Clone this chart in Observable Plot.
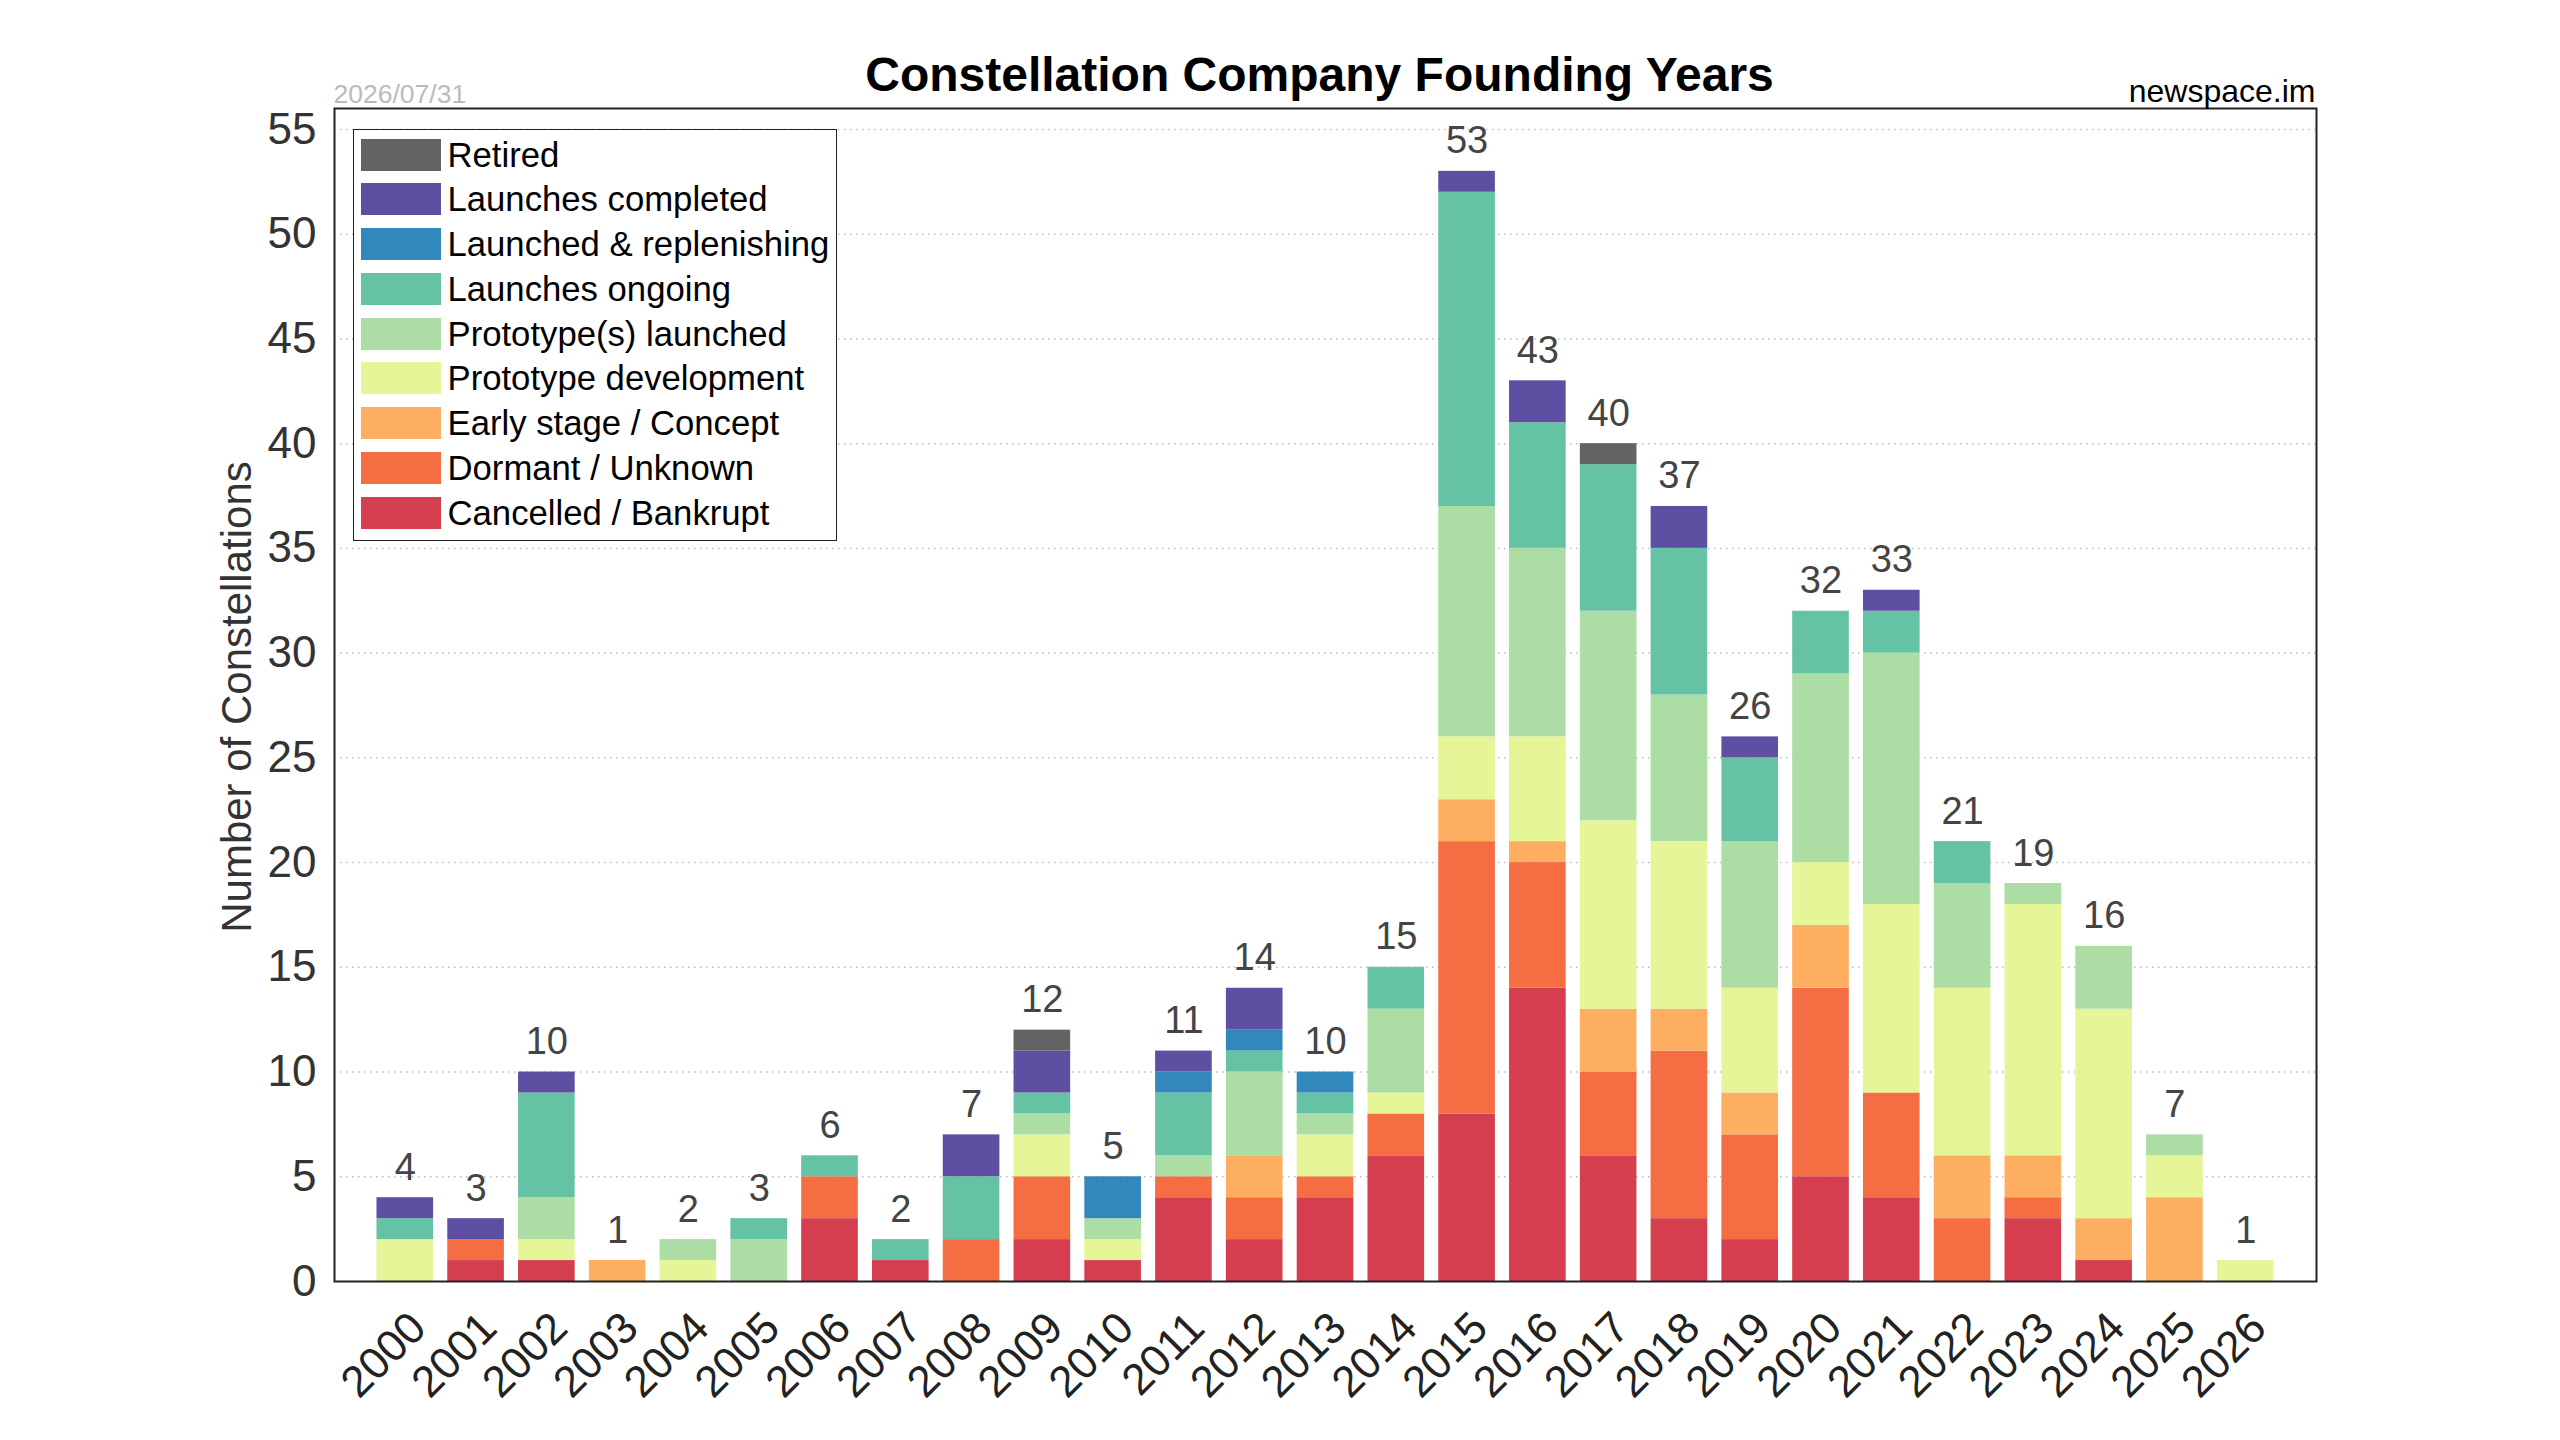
<!DOCTYPE html>
<html>
<head>
<meta charset="utf-8">
<script src="https://cdn.jsdelivr.net/npm/d3@7"></script>
<script src="https://cdn.jsdelivr.net/npm/@observablehq/plot@0.6"></script>
<style>
html, body { margin: 0; padding: 0; background: #fff; }
#wrap { position: relative; width: 2560px; height: 1440px; font-family: 'Liberation Sans', Arial, Helvetica, sans-serif; }
#legend { position: absolute; left: 353px; top: 129px; width: 484px; height: 412px; border: 1.5px solid #222; background: #fff; box-sizing: border-box; }
.lrow { position: absolute; left: 6.5px; height: 32px; display: flex; align-items: center; }
.sw { width: 80px; height: 32px; box-sizing: border-box; }
.lt { margin-left: 7px; font-size: 34.7px; color: #000; line-height: 32px; white-space: nowrap; }
</style>
</head>
<body>
<div id="wrap"></div>
<script>
// ---- data ----
const years = ["2000","2001","2002","2003","2004","2005","2006","2007","2008","2009","2010","2011","2012","2013","2014","2015","2016","2017","2018","2019","2020","2021","2022","2023","2024","2025","2026"];

// stacked from bottom to top
const cancelled     = [0,1,1,0,0,0,3,1,0,2,1,4,2,4,6, 8,14, 6, 3,2,5, 4,0, 3, 1,0,0];
const dormant       = [0,1,0,0,0,0,2,0,2,3,0,1,2,1,2,13, 6, 4, 8,5,9, 5,3, 1, 0,0,0];
const earlyStage    = [0,0,0,1,0,0,0,0,0,0,0,0,2,0,0, 2, 1, 3, 2,2,3, 0,3, 2, 2,4,0];
const protoDev      = [2,0,1,0,1,0,0,0,0,2,1,0,0,2,1, 3, 5, 9, 8,5,3, 9,8,12,10,2,1];
const protoLaunched = [0,0,2,0,1,2,0,0,0,1,1,1,4,1,4,11, 9,10, 7,7,9,12,5, 1, 3,1,0];
const ongoing       = [1,0,5,0,0,1,1,1,3,1,0,3,1,1,2,15, 6, 7, 7,4,3, 2,2, 0, 0,0,0];
const replenishing  = [0,0,0,0,0,0,0,0,0,0,2,1,1,1,0, 0, 0, 0, 0,0,0, 0,0, 0, 0,0,0];
const completed     = [1,1,1,0,0,0,0,0,2,2,0,1,2,0,0, 1, 2, 0, 2,1,0, 1,0, 0, 0,0,0];
const retired       = [0,0,0,0,0,0,0,0,0,1,0,0,0,0,0, 0, 0, 1, 0,0,0, 0,0, 0, 0,0,0];

const statusNames = ["Cancelled / Bankrupt","Dormant / Unknown","Early stage / Concept","Prototype development","Prototype(s) launched","Launches ongoing","Launched & replenishing","Launches completed","Retired"];
const statusColors = ["#d53e4f","#f46d43","#fdae61","#e6f598","#abdda4","#66c2a5","#3288bd","#5e4fa2","#636363"];
const seriesValues = [cancelled, dormant, earlyStage, protoDev, protoLaunched, ongoing, replenishing, completed, retired];

const yTicks = [0,5,10,15,20,25,30,35,40,45,50,55];
const titleText = "Constellation Company Founding Years";
const dateText = "2026/07/31";
const sourceText = "newspace.im";
const yLabelText = "Number of Constellations";

// ---- build table ----
const rows = [];
statusNames.forEach((s, si) => {
  seriesValues[si].forEach((v, yi) => {
    if (v > 0) rows.push({year: years[yi], status: s, value: v});
  });
});

const font = "'Liberation Sans', Arial, Helvetica, sans-serif";

const chart = Plot.plot({
  width: 2560,
  height: 1440,
  marginLeft: 334,
  marginRight: 244,
  marginTop: 108,
  marginBottom: 159,
  style: {fontFamily: font, background: "#fff", overflow: "visible"},
  x: {type: "band", domain: years, paddingInner: 0.2, paddingOuter: 0.6, round: false, axis: null},
  y: {domain: [0, 56], axis: null},
  color: {domain: statusNames, range: statusColors},
  marks: [
    Plot.gridY(yTicks.slice(1), {stroke: "#bbb", strokeOpacity: 1, strokeWidth: 1.5, strokeDasharray: "1.5,4.5"}),
    Plot.barY(rows, {x: "year", y: "value", fill: "status", z: "status", order: statusNames}),
    Plot.frame({stroke: "#222", strokeWidth: 2}),
    Plot.axisY(yTicks, {tickSize: 0, tickPadding: 18, fontSize: 44, fill: "#333", label: null}),
    Plot.text(rows, Plot.groupX({y: "sum", text: "sum"}, {x: "year", y: "value", text: "value", lineAnchor: "bottom", dy: -18, fontSize: 38, fill: "#444"})),
    Plot.text(years, {x: d => d, text: d => d, frameAnchor: "bottom", rotate: -45, textAnchor: "end", lineAnchor: "middle", dx: 13, dy: 39, fontSize: 44, fill: "#222"}),
    Plot.text([yLabelText], {text: d => d, frameAnchor: "left", rotate: -90, textAnchor: "middle", lineAnchor: "middle", dx: -97, dy: 2, fontSize: 42, fill: "#333"}),
    Plot.text([titleText], {text: d => d, frameAnchor: "top", textAnchor: "middle", lineAnchor: "bottom", dx: -6, dy: -18, fontSize: 48, fontWeight: "bold", fill: "#000"}),
    Plot.text([dateText], {text: d => d, frameAnchor: "top-left", textAnchor: "start", lineAnchor: "bottom", dx: -1, dy: -6, fontSize: 26.5, fill: "#bbb"}),
    Plot.text([sourceText], {text: d => d, frameAnchor: "top-right", textAnchor: "end", lineAnchor: "bottom", dx: -1, dy: -7, fontSize: 32, fill: "#000"})
  ]
});

const wrap = document.getElementById("wrap");
wrap.appendChild(chart);

// ---- legend (top to bottom: reverse of stacking order) ----
const legend = document.createElement("div");
legend.id = "legend";
const legendOrder = statusNames.map((s, i) => i).reverse();
legendOrder.forEach((si, k) => {
  const row = document.createElement("div");
  row.className = "lrow";
  row.style.top = (8.5 + k * 44.75) + "px";
  const sw = document.createElement("div");
  sw.className = "sw";
  sw.style.background = statusColors[si];
  const lt = document.createElement("div");
  lt.className = "lt";
  lt.textContent = statusNames[si];
  row.appendChild(sw);
  row.appendChild(lt);
  legend.appendChild(row);
});
wrap.appendChild(legend);
</script>
</body>
</html>
